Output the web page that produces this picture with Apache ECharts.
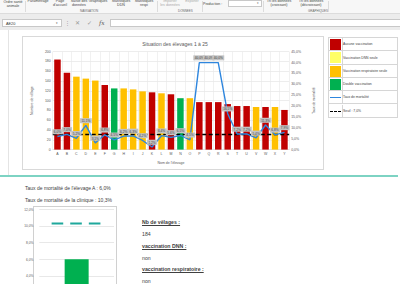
<!DOCTYPE html>
<html><head><meta charset="utf-8">
<script src="https://cdn.jsdelivr.net/npm/echarts/dist/echarts.min.js"></script>
<style>
html,body{margin:0;padding:0;width:400px;height:284px;overflow:hidden;background:#fff;font-family:"Liberation Sans",Arial,sans-serif;}
.a{position:absolute;white-space:nowrap;}
#ribbon{position:absolute;left:0;top:0;width:400px;height:13px;background:#f7f7f7;border-bottom:1px solid #dcdcdc;}
.rt{position:absolute;font-size:3.6px;color:#444;line-height:4.2px;text-align:center;white-space:nowrap;}
.grp{position:absolute;top:9.2px;font-size:3px;color:#666;white-space:nowrap;}
.sep{position:absolute;top:1px;width:1px;height:11px;background:#dcdcdc;}
#fbar{position:absolute;left:0;top:14px;width:400px;height:16px;background:#ececec;}
.box{position:absolute;background:#fff;border:1px solid #c8c8c8;box-sizing:border-box;}
.leg{position:absolute;left:328px;top:37px;width:70px;height:81px;border:1px solid #d6d6d6;box-sizing:border-box;background:#fff;}
.lr{position:absolute;left:0;width:68px;height:13.3px;border-bottom:1px solid #d6d6d6;box-sizing:border-box;}
.lr .sw{position:absolute;left:1px;top:1px;width:11px;height:11px;}
.lr .tx{position:absolute;left:14px;top:4.3px;font-size:3.4px;color:#404040;white-space:nowrap;}
.lr .vl{position:absolute;left:12.5px;top:0;width:1px;height:13px;background:#d6d6d6;}
.info{position:absolute;left:142px;font-size:5.2px;color:#404040;white-space:nowrap;}
.info b{text-decoration:underline;}
</style></head>
<body>
<div id="ribbon">
  <div class="rt" style="left:2px;top:0px;width:22px;">Ordre santé<br>animale</div>
  <div class="sep" style="left:25px"></div>
  <div class="rt" style="left:27px;top:-1px;width:22px;">Paramétrage</div>
  <div class="rt" style="left:51px;top:-1px;width:18px;">Page<br>d'accueil</div>
  <div class="rt" style="left:70px;top:-1px;width:18px;">Saisie des<br>données</div>
  <div class="rt" style="left:88px;top:-1px;width:20px;">Graphiques</div>
  <div class="rt" style="left:110px;top:-1px;width:22px;">Statistiques<br>DDN</div>
  <div class="rt" style="left:133px;top:-1px;width:22px;">Statistiques<br>respi</div>
  <div class="grp" style="left:80px;">NAVIGATION</div>
  <div class="sep" style="left:157px"></div>
  <div class="rt" style="left:158px;top:-1px;width:24px;color:#aaa;">Importer<br>les données</div>
  <div class="rt" style="left:182px;top:-1px;width:20px;color:#aaa;">Exporter</div>
  <div class="grp" style="left:178px;">DONNEES</div>
  <div class="sep" style="left:202px"></div>
  <div class="rt" style="left:203px;top:1.5px;width:22px;text-align:left;">Production :</div>
  <div class="box" style="left:228px;top:0px;width:34px;height:7px;"><span style="position:absolute;right:2px;top:0px;font-size:3px;color:#666;">▾</span></div>
  <div class="sep" style="left:263px"></div>
  <div class="rt" style="left:264px;top:-1px;width:30px;">Tri les données<br>(croissant)</div>
  <div class="rt" style="left:294px;top:-1px;width:34px;">Tri les données<br>(décroissant)</div>
  <div class="grp" style="left:308px;">GRAPHIQUES</div>
  <div class="sep" style="left:328px"></div>
</div>
<div id="fbar">
  <div class="box" style="left:2px;top:5px;width:60px;height:8px;"><span style="position:absolute;left:3px;top:1.6px;font-size:3.8px;color:#333;">AE20</span><span style="position:absolute;right:3px;top:1px;font-size:3px;color:#555;">▾</span></div>
  <div class="a" style="left:65px;top:6px;font-size:5px;color:#999;">⋮</div>
  <div class="a" style="left:75px;top:5px;font-size:6px;color:#999;">✕</div>
  <div class="a" style="left:87px;top:5px;font-size:6px;color:#999;">✓</div>
  <div class="a" style="left:99px;top:4.5px;font-size:6px;color:#555;font-style:italic;font-family:'DejaVu Serif',serif;">fx</div>
  <div class="box" style="left:110px;top:5px;width:292px;height:8px;"></div>
</div>
<div class="a" style="left:8px;top:30px;width:1px;height:145px;background:#e4e4e4;"></div>
<div class="a" style="left:22px;top:36px;width:302px;height:134px;border:1px solid #d9d9d9;box-sizing:border-box;"></div>
<div id="main" class="a" style="left:22px;top:36px;width:302px;height:134px;"></div>
<div class="leg">
  <div class="lr" style="top:0"><div class="sw" style="background:#C00000"></div><div class="vl"></div><div class="tx">Aucune vaccination</div></div>
  <div class="lr" style="top:13.3px"><div class="sw" style="background:#FFFF66"></div><div class="vl"></div><div class="tx">Vaccination DNN seule</div></div>
  <div class="lr" style="top:26.6px"><div class="sw" style="background:#FFC000"></div><div class="vl"></div><div class="tx">Vaccination respiratoire seule</div></div>
  <div class="lr" style="top:39.9px"><div class="sw" style="background:#00B050"></div><div class="vl"></div><div class="tx">Double vaccination</div></div>
  <div class="lr" style="top:53.2px"><div style="position:absolute;left:1px;top:6px;width:11px;height:1.2px;background:#2E86DE"></div><div class="vl"></div><div class="tx">Taux de mortalité</div></div>
  <div class="lr" style="top:66.5px;border-bottom:none"><div style="position:absolute;left:1px;top:6px;width:11px;height:0;border-top:1.2px dashed #000"></div><div class="vl"></div><div class="tx">Seuil : 7,0%</div></div>
</div>
<div class="a" style="left:0;top:175px;width:398px;height:2px;background:#7DD3C3;"></div>
<div class="a" style="left:25px;top:184.5px;font-size:5px;color:#404040;">Taux de mortalité de l'élevage A : 6,0%</div>
<div class="a" style="left:25px;top:196.5px;font-size:5px;color:#404040;">Taux de mortalité de la clinique : 10,3%</div>
<div class="a" style="left:33px;top:206px;width:84px;height:100px;border:1px solid #d0d0d0;box-sizing:border-box;"></div>
<div id="small" class="a" style="left:20px;top:206px;width:97px;height:110px;"></div>
<div class="info" style="top:219.3px;"><b>Nb de vêlages :</b></div>
<div class="info" style="top:231.3px;">184</div>
<div class="info" style="top:243px;"><b>vaccination DNN :</b></div>
<div class="info" style="top:255.3px;">non</div>
<div class="info" style="top:266.3px;"><b>vaccination respiratoire :</b></div>
<div class="info" style="top:277.6px;">non</div>
<script>
// ---- data ----
const categories = ['A','B','C','D','E','F','G','H','I','J','K','L','M','N','O','P','Q','R','S','T','U','V','W','X','Y'];
const velages = [184,157,149,145,141,132,125,125,123,119,117,115,113,105,105,97,97,97,93,89,89,87,87,87,81];
const mortalite = [6.0,7.0,5.2,11.1,3.1,6.8,4.5,6.2,6.3,4.2,1.2,6.4,5.6,6.5,4.5,40.0,40.0,40.0,16.5,7.2,7.2,5.4,11.3,6.8,7.9];
const statut = ['aucune','aucune','respi','respi','respi','aucune','double','respi','respi','respi','aucune','respi','aucune','double','respi','aucune','aucune','aucune','aucune','aucune','aucune','respi','aucune','respi','aucune'];
const seuil = 7.0;
const statutColors = {aucune:'#C00000', dnn:'#FFFF66', respi:'#FFC000', double:'#00B050'};
const velagesTicks = [0,20,40,60,80,100,120,140,160,180,200];
const mortaliteTicks = [0,5,10,15,20,25,30,35,40,45];
// small chart
const elevageMortalite = 6.0;
const cliniqueMortalite = 10.3;
const smallTicks = [0,2,4,6,8,10,12];

const pct = v => v.toFixed(1).replace('.', ',') + '%';
const axisTxt = {fontSize:3.5, color:'#595959', fontFamily:'Liberation Sans'};

const main = echarts.init(document.getElementById('main'), null, {renderer:'svg'});
main.setOption({
  animation:false,
  title:{text:'Situation des élevages 1 à 25', left:153, top:5.5, padding:0, textAlign:'center',
    textStyle:{fontSize:5, color:'#595959', fontWeight:'normal', fontFamily:'Liberation Sans'}},
  grid:{left:20, right:20.5, top:15.7, bottom:18.3},
  xAxis:{type:'category', data:categories,
    axisTick:{show:false}, axisLine:{lineStyle:{color:'#d9d9d9', width:0.6}},
    axisLabel:Object.assign({margin:2.5}, axisTxt),
    splitLine:{show:true, lineStyle:{color:'#e8e8e8', width:0.6}},
    name:"Nom de l'élevage", nameLocation:'middle', nameGap:10, nameTextStyle:axisTxt},
  yAxis:[
    {type:'value', min:velagesTicks[0], max:velagesTicks[velagesTicks.length-1], interval:velagesTicks[1]-velagesTicks[0],
     axisLabel:Object.assign({margin:2}, axisTxt),
     axisLine:{show:false}, axisTick:{show:false},
     splitLine:{lineStyle:{color:'#e0e0e0', width:0.6}},
     name:'Nombre de vêlage', nameLocation:'middle', nameRotate:90, nameGap:10, nameTextStyle:axisTxt},
    {type:'value', min:mortaliteTicks[0], max:mortaliteTicks[mortaliteTicks.length-1], interval:mortaliteTicks[1]-mortaliteTicks[0],
     position:'right',
     axisLabel:Object.assign({margin:2, formatter:pct}, axisTxt),
     axisLine:{show:false}, axisTick:{show:false}, splitLine:{show:false},
     name:'Taux de mortalité', nameLocation:'middle', nameRotate:90, nameGap:13, nameTextStyle:axisTxt}
  ],
  series:[
    {type:'bar', yAxisIndex:0, barWidth:6.5,
     data:velages.map((v,i)=>({value:v, itemStyle:{color:statutColors[statut[i]]}}))},
    {type:'line', yAxisIndex:1, data:mortalite, symbol:'circle', symbolSize:0.5, showSymbol:true, z:5,
     itemStyle:{color:'#2E86DE'},
     lineStyle:{color:'#2E86DE', width:1.4},
     label:{show:true, position:'top', distance:2, formatter:p=>pct(p.value),
       fontSize:3.2, color:'#404040', backgroundColor:'#c4c4c4', padding:[1.2,1.5,0.8,1.5], fontFamily:'Liberation Sans'},
     labelLayout:{hideOverlap:false},
     markLine:{silent:true, symbol:'none', label:{show:false},
       lineStyle:{color:'#000', type:[4,2.5], width:1.3},
       data:[{yAxis:seuil}]}}
  ]
});

const small = echarts.init(document.getElementById('small'), null, {renderer:'svg'});
small.setOption({
  animation:false,
  grid:{left:19.3, right:3, top:3.3, bottom:6.7},
  xAxis:{type:'value', min:0, max:1, show:false},
  yAxis:{type:'value', min:smallTicks[0], max:smallTicks[smallTicks.length-1], interval:smallTicks[1]-smallTicks[0],
    axisLabel:{formatter:v => v < 4 ? '' : pct(v), fontSize:3.2, color:'#595959', margin:6, fontFamily:'Liberation Sans'},
    axisLine:{show:false}, axisTick:{show:false},
    splitLine:{lineStyle:{color:'#d9d9d9', width:0.6}}},
  series:[
    {type:'bar', barWidth:24, data:[[0.5, elevageMortalite]], itemStyle:{color:'#00B050'}},
    {type:'line', symbol:'none', data:[[0.165, cliniqueMortalite],[0.835, cliniqueMortalite]],
     lineStyle:{color:'#1FA89C', width:2, type:[11.6,7]}}
  ]
});
</script>
</body></html>
